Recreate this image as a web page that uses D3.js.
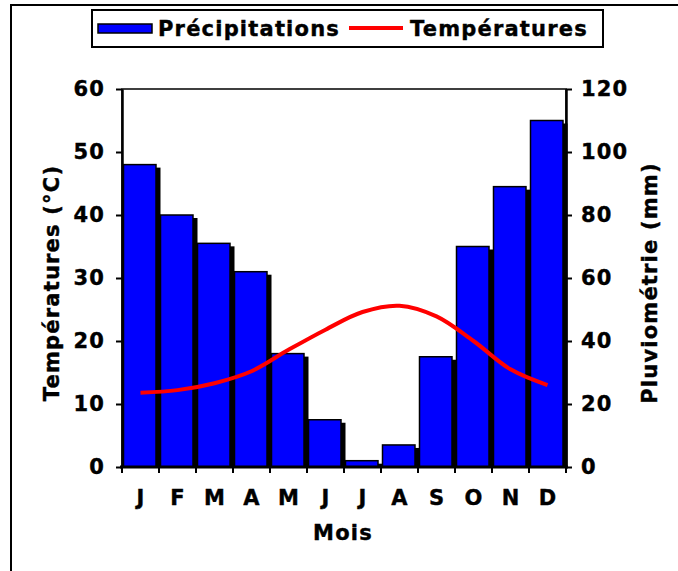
<!DOCTYPE html>
<html>
<head>
<meta charset="utf-8">
<script src="https://cdn.jsdelivr.net/npm/d3@7"></script>
<style>
html,body{margin:0;padding:0;background:#fff;}
svg{display:block;}
text{font-family:"DejaVu Sans",Verdana,sans-serif;font-weight:bold;fill:#000;stroke:#000;stroke-width:0.4px;letter-spacing:1.2px;}
</style>
</head>
<body>
<svg id="chart" width="678" height="571"></svg>
<script>
const months = ["J","F","M","A","M","J","J","A","S","O","N","D"];
const precipitations = [96, 80, 71, 62, 36, 15, 2, 7, 35, 70, 89, 110];
const temperatures = [11.8, 12.2, 13.3, 15.2, 18.6, 21.8, 24.6, 25.6, 23.9, 20.0, 15.5, 13.0];
const leftTicks = [0, 10, 20, 30, 40, 50, 60];
const rightTicks = [0, 20, 40, 60, 80, 100, 120];

const svg = d3.select("#chart");
const L = 122, R = 566, T = 89, B = 467;
const FS = "21px";
const idx = d3.range(months.length);

const x = d3.scaleBand().domain(idx).range([L, R]).padding(0);
const yL = d3.scaleLinear().domain([0, 60]).range([B, T]);
const yR = d3.scaleLinear().domain([0, 120]).range([B, T]);
const bw = x.bandwidth();

// outer frame
svg.append("rect").attr("x", 11).attr("y", 5).attr("width", 720).attr("height", 620)
  .attr("fill", "none").attr("stroke", "#000").attr("stroke-width", 2);

// plot area border
svg.append("rect").attr("x", L).attr("y", T).attr("width", R - L).attr("height", B - T)
  .attr("fill", "none").attr("stroke", "#000").attr("stroke-width", 1.5);

// bar shadows
svg.append("g").selectAll("rect").data(idx).join("rect")
  .attr("x", i => x(i) + 1.5 + 4.5)
  .attr("y", i => yR(precipitations[i]) + 3)
  .attr("width", bw - 4.5)
  .attr("height", i => B - yR(precipitations[i]) - 3)
  .attr("fill", "#000");

// bars
svg.append("g").selectAll("rect").data(idx).join("rect")
  .attr("x", i => x(i) + 1.5)
  .attr("y", i => yR(precipitations[i]))
  .attr("width", bw - 4.5)
  .attr("height", i => B - yR(precipitations[i]))
  .attr("fill", "#0000ff")
  .attr("stroke", "#000").attr("stroke-width", 1.5);

// temperature line
const line = d3.line()
  .x(i => x(i) + bw / 2)
  .y(i => yL(temperatures[i]))
  .curve(d3.curveCatmullRom.alpha(0.5));
svg.append("path").datum(idx).attr("d", line)
  .attr("fill", "none").attr("stroke", "#ff0000").attr("stroke-width", 4);

function styleTicks(g) {
  g.selectAll(".tick text")
    .style("font-size", FS).style("font-family", "DejaVu Sans").style("font-weight", "bold")
    .attr("fill", "#000").attr("stroke", "#000").attr("stroke-width", 0.4);
}

// left axis
const axL = svg.append("g").attr("transform", `translate(${L},0)`)
  .call(d3.axisLeft(yL).tickValues(leftTicks).tickSize(6).tickPadding(11).tickSizeOuter(0));
axL.select(".domain").attr("stroke-width", 2.5);
axL.selectAll(".tick line").attr("stroke-width", 2);
styleTicks(axL);

// right axis
const axR = svg.append("g").attr("transform", `translate(${R},0)`)
  .call(d3.axisRight(yR).tickValues(rightTicks).tickSize(6).tickPadding(9).tickSizeOuter(0));
axR.select(".domain").attr("stroke-width", 2.5);
axR.selectAll(".tick line").attr("stroke-width", 2);
styleTicks(axR);

// x axis
svg.append("line").attr("x1", L - 2).attr("x2", R + 2).attr("y1", B).attr("y2", B)
  .attr("stroke", "#000").attr("stroke-width", 3);
const bounds = idx.map(i => x(i)).concat([R]);
svg.append("g").selectAll("line").data(bounds).join("line")
  .attr("x1", d => d).attr("x2", d => d).attr("y1", B).attr("y2", B + 6)
  .attr("stroke", "#000").attr("stroke-width", 2);
svg.append("g").selectAll("text").data(idx).join("text")
  .attr("x", i => x(i) + bw / 2 + 0.6).attr("y", 505)
  .attr("text-anchor", "middle").style("font-size", FS)
  .text(i => months[i]);

// axis titles
svg.append("text").attr("x", 343).attr("y", 540).attr("text-anchor", "middle")
  .style("font-size", FS).text("Mois");
svg.append("text").attr("transform", "translate(59,283) rotate(-90)").attr("text-anchor", "middle")
  .style("font-size", FS).text("Températures (°C)");
svg.append("text").attr("transform", "translate(657,283) rotate(-90)").attr("text-anchor", "middle")
  .style("font-size", FS).text("Pluviométrie (mm)");

// legend
const lg = svg.append("g");
lg.append("rect").attr("x", 92).attr("y", 10).attr("width", 511).attr("height", 37)
  .attr("fill", "#fff").attr("stroke", "#000").attr("stroke-width", 2);
lg.append("rect").attr("x", 98).attr("y", 24).attr("width", 54).attr("height", 9)
  .attr("fill", "#0000ff").attr("stroke", "#000").attr("stroke-width", 1.5);
lg.append("text").attr("x", 158).attr("y", 36).style("font-size", FS).text("Précipitations");
lg.append("line").attr("x1", 349).attr("x2", 403).attr("y1", 28).attr("y2", 28)
  .attr("stroke", "#ff0000").attr("stroke-width", 4);
lg.append("text").attr("x", 410).attr("y", 36).style("font-size", FS).text("Températures");
</script>
</body>
</html>
